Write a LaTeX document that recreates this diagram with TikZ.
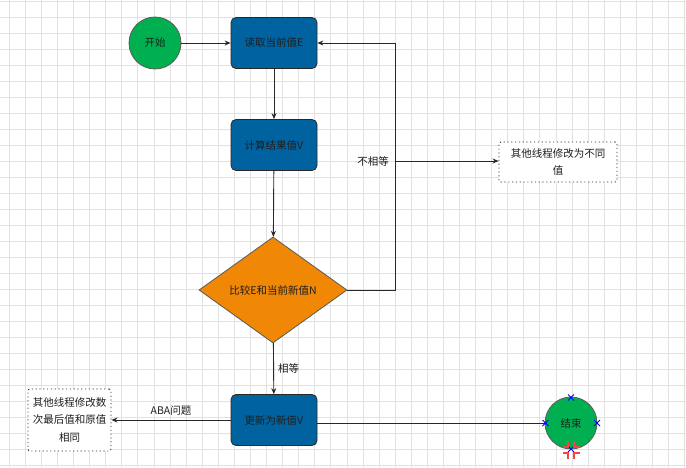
\documentclass[tikz,border=0pt]{standalone}
\usepackage{fontspec}
\setmainfont{Liberation Sans}
\newfontfamily\cjk{Noto Sans CJK SC}
\usetikzlibrary{shapes.geometric,arrows.meta}
\definecolor{gridc}{RGB}{225,225,225}
\definecolor{procblue}{RGB}{0,99,160}
\definecolor{termgreen}{RGB}{0,176,80}
\definecolor{decorange}{RGB}{240,135,5}
\definecolor{linec}{RGB}{40,40,40}
\definecolor{txtc}{RGB}{30,30,30}
\begin{document}
\begin{tikzpicture}[x=1pt,y=-1pt,
  every node/.style={font=\cjk\fontsize{10.5}{17.5}\selectfont, text=txtc},
  proc/.style={rectangle, rounded corners=5pt, draw=linec, line width=0.8pt, fill=procblue, minimum width=86pt, minimum height=51pt, inner sep=0pt},
  term/.style={circle, draw=black!65, line width=0.8pt, fill=termgreen, minimum size=52pt, inner sep=0pt},
  dec/.style={diamond, draw=black!65, line width=0.8pt, fill=decorange, minimum width=148pt, minimum height=106pt, inner sep=0pt},
  note/.style={rectangle, rounded corners=2pt, draw=linec, line width=0.9pt, dash pattern=on 1.2pt off 2.6pt, fill=white, align=center, inner sep=0pt},
  arr/.style={draw=linec, line width=0.9pt, -{Stealth[length=6pt,width=5pt]}},
  conn/.style={draw=linec, line width=0.9pt},
  lbl/.style={fill=none, inner sep=1pt},
  mk/.style={draw=blue, line width=0.8pt}
]
\useasboundingbox (0,0) rectangle (686,467);
\fill[white] (0,0) rectangle (686,467);
% grid
\foreach \i in {0,...,42} {\draw[gridc, line width=0.9pt] ({9.3+16.08*\i},0) -- ({9.3+16.08*\i},467);}
\foreach \j in {0,...,29} {\draw[gridc, line width=0.9pt] (0,{1+16.03*\j}) -- (686,{1+16.03*\j});}

% nodes
\node[term] (start) at (155,43) {开始};
\node[proc] (read) at (274,43) {读取当前值E};
\node[proc] (calc) at (274,145) {计算结果值V};
\node[dec] (cmp) at (273,290) {比较E和当前新值N};
\node[proc] (upd) at (274,420) {更新为新值V};
\node[term] (end) at (571,423) {结束};
\node[note, minimum width=118pt, minimum height=40pt] (other1) at (558,162) {其他线程修改为不同\\值};
\node[note, minimum width=83pt, minimum height=62pt] (aba) at (69.5,420) {其他线程修改数\\次最后值和原值\\相同};

% connectors
\coordinate (loopB) at (395,290);
\coordinate (loopT) at (395,43);
\coordinate (br) at (395,161);
\draw[arr] (start) -- (read);
\draw[arr] (read) -- (calc);
\draw[arr] (calc) -- (cmp);
\draw[arr] (cmp) -- node[lbl, right, pos=0.5, xshift=3pt] {相等} (upd);
\draw[arr] (cmp.east) -- (loopB) -- (loopT) -- (read.east);
\draw[arr] (br) -- (other1.west |- br);
\node[lbl, anchor=east] (neq) at ([xshift=-5pt]br) {不相等};
\draw[arr] (upd.west) -- node[lbl, above, yshift=3pt] {ABA问题} (upd.west -| aba.east);
\draw[conn] (end.west -| upd.east) -- (end.west);

% selection markers
\foreach \p in {(571,397.5),(545.5,423),(597,423),(571,449)} {
  \draw[mk] \p ++(-3,-3) -- ++(6,6);
  \draw[mk] \p ++(-3,3) -- ++(6,-6);
}
\begin{scope}[draw=red!75, line width=1.3pt]
  \draw (568,441) -- (568,447) -- (563,447);
  \draw (574,441) -- (574,447) -- (580,447);
  \draw (568,459) -- (568,453) -- (563,453);
  \draw (574,459) -- (574,453) -- (580,453);
\end{scope}
\end{tikzpicture}
\end{document}
